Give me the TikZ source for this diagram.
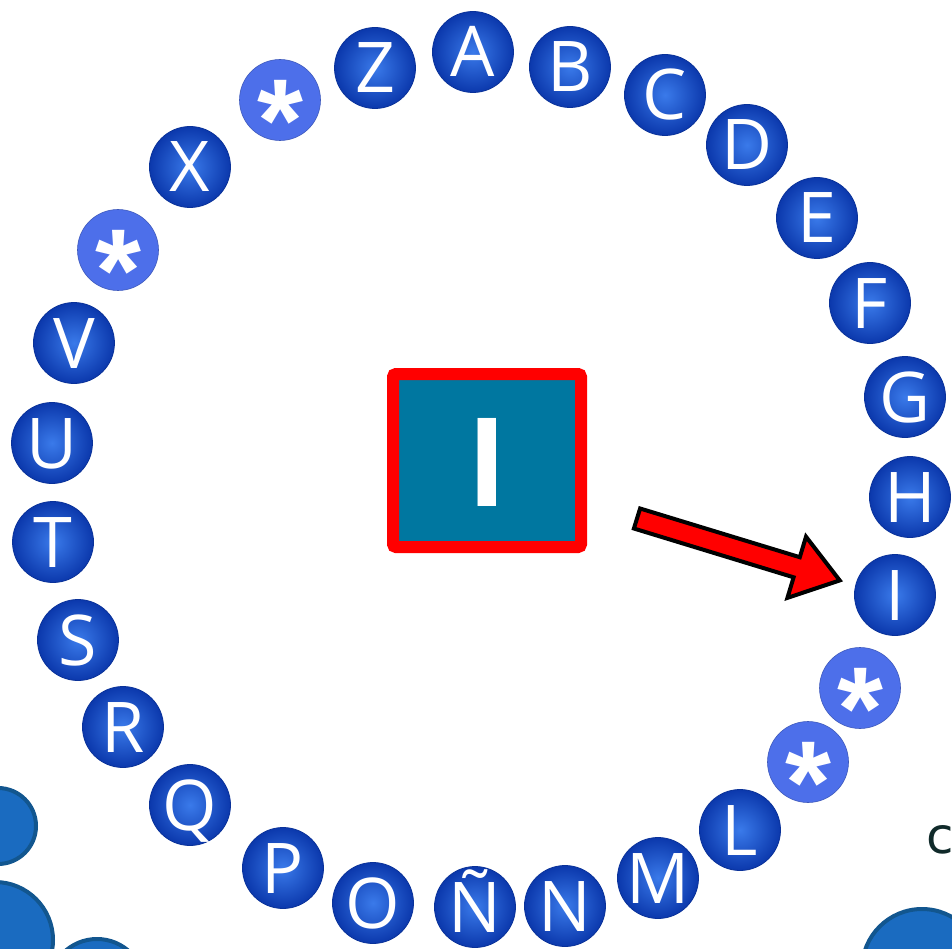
\documentclass[tikz,border=0pt]{standalone}
\usepackage{fontspec}
\newfontfamily\letfont{Open Sans}
\newfontfamily\boxfont{Liberation Sans}
\newfontfamily\starfont{Liberation Sans}
\newfontfamily\handfont{DejaVu Sans}
\definecolor{ballin}{HTML}{3A7AEA}
\definecolor{ballout}{HTML}{0B38AC}
\definecolor{balledge}{HTML}{0A3299}
\definecolor{stardisc}{HTML}{4D6FEA}
\definecolor{deco}{HTML}{1A6BC0}
\definecolor{decoedge}{HTML}{12568F}
\definecolor{boxteal}{HTML}{0077A0}
\definecolor{handink}{HTML}{102A2A}
\tikzset{
  ball/.style={circle, minimum size=81pt, inner sep=0pt, shade, inner color=ballin, outer color=ballout,
    draw=balledge, line width=0.8pt, text=white, font=\letfont\fontsize{70}{70}\selectfont,
    text height=50pt, text depth=0pt},
  stardot/.style={circle, minimum size=81pt, inner sep=0pt, fill=stardisc, draw=stardisc!80!black,
    line width=0.6pt, text=white, font=\starfont\bfseries\fontsize{118}{118}\selectfont,
    text height=0pt, text depth=0pt},
  decocirc/.style={fill=deco, draw=decoedge, line width=4pt},
  letterbox/.style={rectangle, minimum width=188pt, minimum height=173pt, inner sep=0pt, fill=boxteal,
    draw=red, line width=12pt, rounded corners=3pt, text=white,
    font=\boxfont\bfseries\fontsize{128}{128}\selectfont, text height=92pt, text depth=0pt},
  blockarrow/.style={fill=red, draw=black, line width=4pt, line join=miter}
}
\newcommand{\starglyph}{\raisebox{-0.52em}{*}}
\begin{document}
\begin{tikzpicture}[x=1pt, y=-1pt]
\useasboundingbox (0,0) rectangle (952,949);
% decorative circles at the edges
\draw[decocirc] (-2,826) circle (38);
\draw[decocirc] (-5,940) circle (58);
\draw[decocirc] (97,987) circle (48);
\draw[decocirc] (922,969) circle (60);
% ring of letters
\node[ball] (A) at (473,52) {A};
\node[ball] (B) at (570,67) {B};
\node[ball] (C) at (665,95) {C};
\node[ball] (D) at (747,145) {D};
\node[ball] (E) at (817,218) {E};
\node[ball] (F) at (870,303) {F};
\node[ball] (G) at (905,397) {G};
\node[ball] (H) at (910,497) {H};
\node[ball] (I) at (895,595) {I};
\node[stardot] (s1) at (860,688) {\starglyph};
\node[stardot] (s2) at (808,762) {\starglyph};
\node[ball] (L) at (740,830) {L};
\node[ball] (M) at (658,878) {M};
\node[ball] (N) at (565,906) {N};
\node[ball] (NN) at (475,907) {Ñ};
\node[ball] (O) at (373,903) {O};
\node[ball] (P) at (283,868) {P};
\node[ball] (Q) at (190,805) {Q};
\node[ball] (R) at (123,727) {R};
\node[ball] (S) at (78,640) {S};
\node[ball] (T) at (53,542) {T};
\node[ball] (U) at (52,443) {U};
\node[ball] (V) at (74,343) {V};
\node[stardot] (s3) at (118,250) {\starglyph};
\node[ball] (X) at (190,167) {X};
\node[stardot] (s4) at (280,100) {\starglyph};
\node[ball] (Z) at (375,68) {Z};
% central box
\node[letterbox] (box) at (487,460.5) {I};
% block arrow pointing to I
\coordinate (a1) at (640.1,508.5);
\coordinate (a2) at (799.8,557.2);
\coordinate (a3) at (806.0,536.7);
\coordinate (a4) at (839.7,580.4);
\coordinate (a5) at (787.4,597.9);
\coordinate (a6) at (793.6,577.3);
\coordinate (a7) at (633.9,528.5);
\draw[blockarrow] (a1) -- (a2) -- (a3) -- (a4) -- (a5) -- (a6) -- (a7) -- cycle;
% partial text at right edge
\node[text=handink, font=\handfont\fontsize{50}{50}\selectfont, inner sep=0pt] (cc) at (940,840) {c};
\end{tikzpicture}
\end{document}
